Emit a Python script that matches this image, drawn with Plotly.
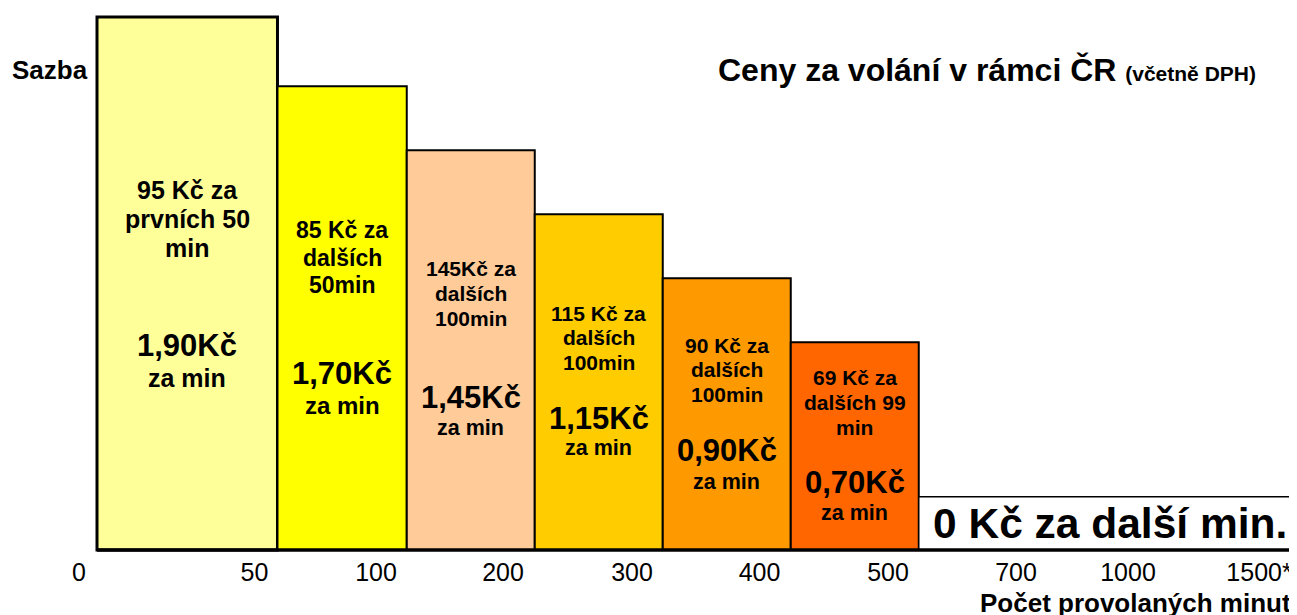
import plotly.graph_objects as go
import numpy as np

# ---------------- data ----------------
minute_ticks = ["0", "50", "100", "200", "300", "400", "500", "700", "1000", "1500*"]
bar_widths = [1.41, 1.01, 1.0, 1.0, 1.0, 1.0, 2.96]      # relative display widths of the steps
bar_levels = [10.0, 8.7, 7.5, 6.3, 5.1, 3.9, 1.0]        # step heights ("Sazba")
bar_colors = ["#FFFF99", "#FFFF00", "#FFCC99", "#FFCC00", "#FF9900", "#FF6600", "#FFFFFF"]
package_text = [
    ["95 Kč za", "prvních 50", "min"],
    ["85 Kč za", "dalších", "50min"],
    ["145Kč za", "dalších", "100min"],
    ["115 Kč za", "dalších", "100min"],
    ["90 Kč za", "dalších", "100min"],
    ["69 Kč za", "dalších 99", "min"],
]
rate_text = ["1,90Kč", "1,70Kč", "1,45Kč", "1,15Kč", "0,90Kč", "0,70Kč"]
unit_text = "za min"
free_text = "0 Kč za další min."
title_main = "Ceny za volání v rámci ČR"
title_sub = "(včetně DPH)"
y_label = "Sazba"
x_label = "Počet provolaných minut"

# ---------------- layout helpers (page pixels) ----------------
PAGE_W, PAGE_H = 1297, 615
OFF = 8                      # default page body margin
W, H = PAGE_W - OFF, PAGE_H - OFF
PLOT_BOTTOM = 555            # page px
X0_PX, PX_PER_X = 97, 128.0
BASE_PX, PX_PER_Y = 550, 53.3
FONT = "Liberation Sans, Arial, sans-serif"

def dx(p):
    return (p - X0_PX) / PX_PER_X

def dy(p):
    return (BASE_PX - p) / PX_PER_Y

def px_(p):
    return (p - OFF) / W

def py_(p):
    return (PLOT_BOTTOM - p) / (PLOT_BOTTOM - OFF)

edges = np.concatenate([[0], np.cumsum(bar_widths)])
centers = (edges[:-1] + edges[1:]) / 2

tick_pos_px = [79, 254.5, 376, 503, 632, 759.5, 888, 1016, 1128, 1259]

header_first_px = [190, 230, 268, 313, 345, 377]
header_step_px = [29, 27.5, 25, 24.5, 24.5, 25]
header_font = [25, 23, 21, 21, 21, 21]
rate_px = [345, 373, 397, 418, 450, 482]
unit_px = [378, 405, 428, 448, 482, 513]
unit_font = [25, 24, 21.5, 21.5, 21.5, 21.5]

fig = go.Figure()
fig.add_trace(go.Bar(
    x=centers, y=bar_levels, width=bar_widths,
    marker=dict(color=bar_colors,
                line=dict(color="black", width=[3, 2, 2, 2, 2, 2, 1.5])),
    hoverinfo="skip", showlegend=False,
))

ann = []
for i, lines in enumerate(package_text):
    for j, ln in enumerate(lines):
        ann.append(dict(x=centers[i], y=dy(header_first_px[i] + j * header_step_px[i]),
                        xref="x", yref="y", text=ln, showarrow=False,
                        xanchor="center", yanchor="middle",
                        font=dict(family=FONT, size=header_font[i], color="black", weight="bold")))
    ann.append(dict(x=centers[i], y=dy(rate_px[i]), xref="x", yref="y", text=rate_text[i],
                    showarrow=False, xanchor="center", yanchor="middle",
                    font=dict(family=FONT, size=31, color="black", weight="bold")))
    ann.append(dict(x=centers[i], y=dy(unit_px[i]), xref="x", yref="y", text=unit_text,
                    showarrow=False, xanchor="center", yanchor="middle",
                    font=dict(family=FONT, size=unit_font[i], color="black", weight="bold")))

ann.append(dict(x=dx(1110), y=dy(523), xref="x", yref="y", text=free_text, showarrow=False,
                xanchor="center", yanchor="middle",
                font=dict(family=FONT, size=42.5, color="black", weight="bold")))

ann.append(dict(x=px_(1258), y=py_(70), xref="paper", yref="paper",
                text=f"{title_main} <span style='font-size:21px'>{title_sub}</span>",
                showarrow=False, xanchor="right", yanchor="middle",
                font=dict(family=FONT, size=32, color="black", weight="bold")))
ann.append(dict(x=px_(10), y=py_(70), xref="paper", yref="paper", text=y_label,
                showarrow=False, xanchor="left", yanchor="middle",
                font=dict(family=FONT, size=26, color="black", weight="bold")))
ann.append(dict(x=px_(1293), y=py_(603), xref="paper", yref="paper", text=x_label,
                showarrow=False, xanchor="right", yanchor="middle",
                font=dict(family=FONT, size=26, color="black", weight="bold")))

fig.update_layout(
    width=W, height=H,
    margin=dict(l=0, r=0, t=0, b=PAGE_H - PLOT_BOTTOM),
    paper_bgcolor="white", plot_bgcolor="white",
    annotations=ann,
    shapes=[dict(type="line", xref="x", yref="y", x0=edges[0], x1=edges[-1], y0=0, y1=0,
                 line=dict(color="black", width=3.5), layer="above")],
    xaxis=dict(range=[dx(OFF), dx(PAGE_W)], showgrid=False, zeroline=False, showline=False,
               tickmode="array", tickvals=[dx(p) for p in tick_pos_px], ticktext=minute_ticks,
               ticks="", tickfont=dict(family=FONT, size=25, color="black"), fixedrange=True),
    yaxis=dict(range=[dy(PLOT_BOTTOM), dy(OFF)], visible=False, fixedrange=True),
)

fig.write_html("out.html")
